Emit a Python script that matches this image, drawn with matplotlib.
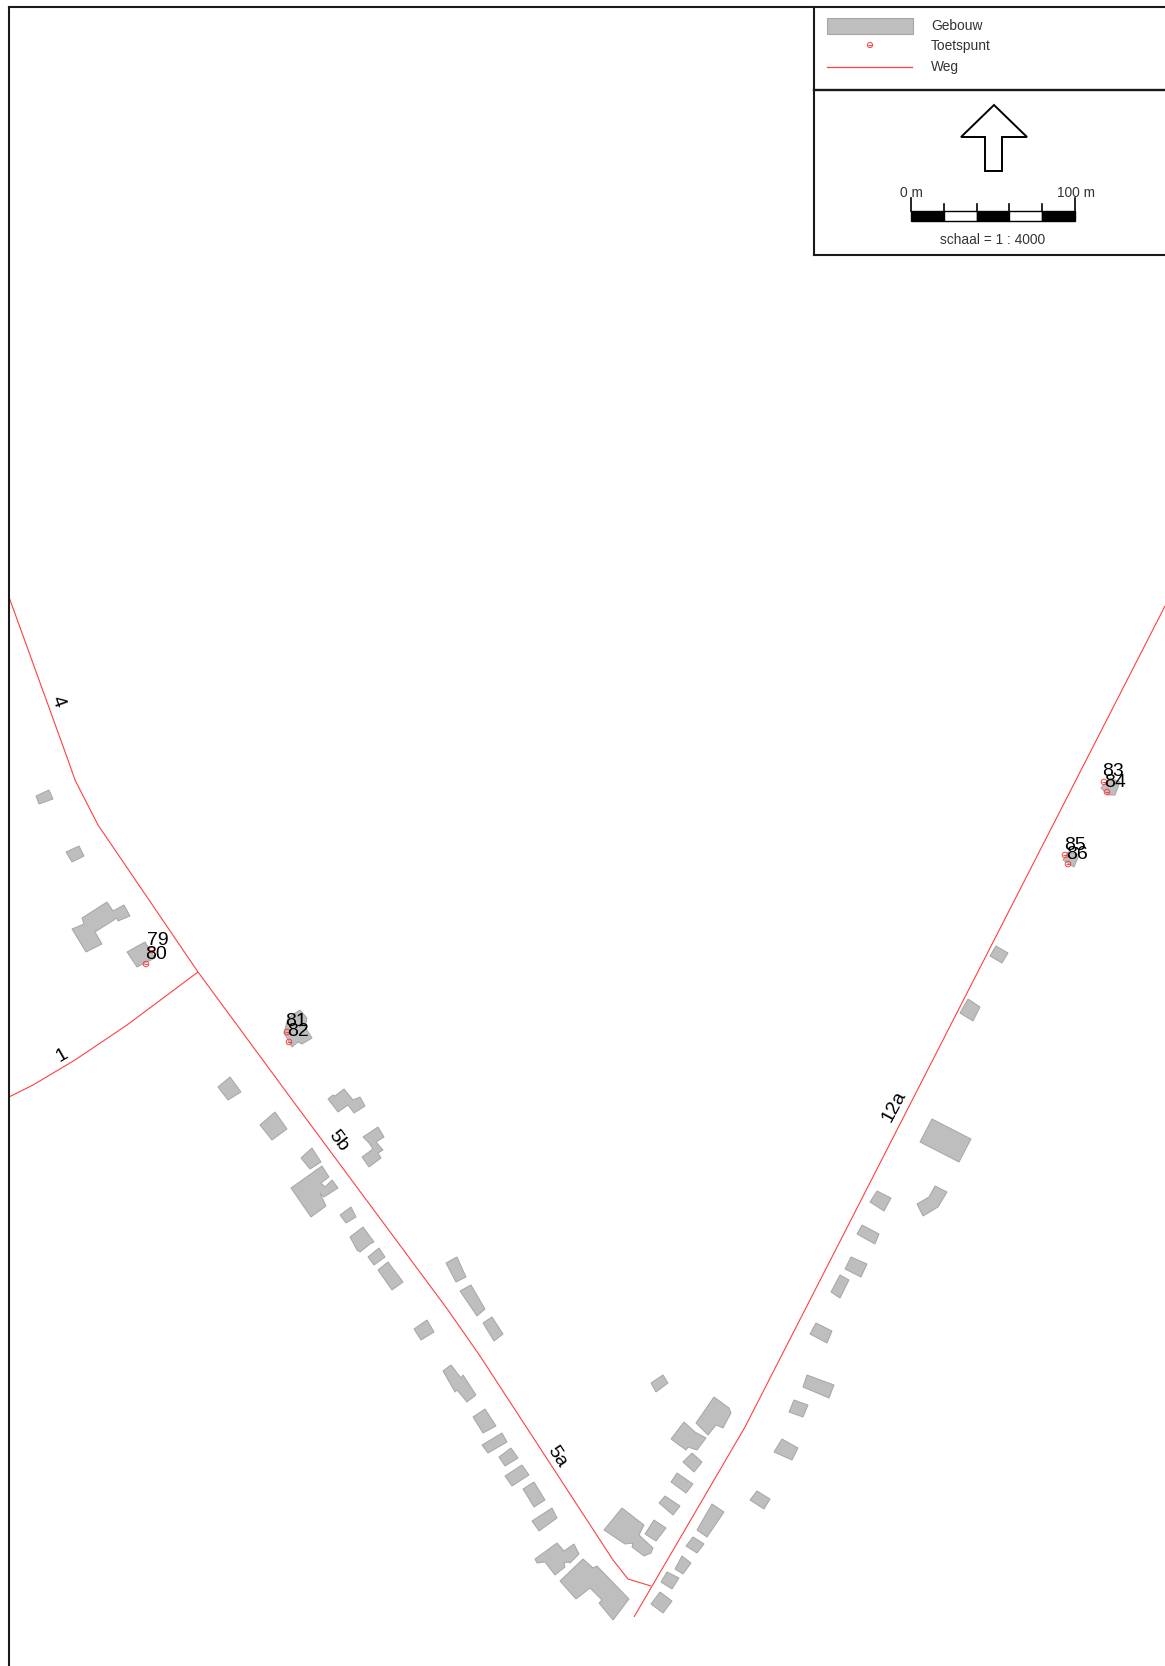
import matplotlib
matplotlib.use("Agg")
import matplotlib.pyplot as plt
from matplotlib.patches import Polygon, Rectangle

plt.rcParams['font.family'] = ['Liberation Sans', 'DejaVu Sans']

# everything is in map pixels, y going down
buildings = [
    [(36,796),(49,790),(53,799),(39,804)],
    [(66,852),(79,846),(84,856),(72,862)],
    [(72,929),(84,924),(82,918),(107,902),(113,911),(124,905),(130,916),(118,921),(117,918),(95,932),(102,944),(86,952)],
    [(127,952),(145,942),(155,958),(137,967)],
    [(300,1010),(307,1018),(305,1027),(312,1038),(302,1044),(298,1042),(292,1047),(284,1033),(288,1018)],
    [(218,1087),(230,1077),(241,1092),(228,1100)],
    [(260,1125),(275,1112),(287,1129),(272,1140)],
    [(328,1099),(333,1095),(335,1096),(344,1089),(353,1100),(360,1097),(365,1106),(354,1113),(348,1105),(338,1112)],
    [(363,1137),(378,1127),(384,1137),(376,1142),(383,1150),(378,1153),(381,1158),(369,1167),(362,1157),(373,1149),(369,1143)],
    [(301,1158),(312,1148),(321,1162),(310,1169)],
    [(291,1188),(322,1166),(329,1177),(321,1183),(325,1187),(332,1180),(338,1188),(324,1197),(320,1193),(326,1206),(311,1217)],
    [(340,1215),(351,1207),(356,1217),(346,1223)],
    [(350,1237),(363,1227),(374,1242),(370,1244),(360,1252),(357,1250)],
    [(368,1257),(379,1248),(385,1257),(374,1265)],
    [(378,1270),(388,1262),(403,1282),(392,1290)],
    [(446,1263),(457,1257),(466,1277),(456,1282)],
    [(460,1291),(471,1285),(485,1309),(477,1316)],
    [(483,1323),(492,1317),(503,1334),(494,1341)],
    [(414,1329),(427,1320),(434,1332),(421,1340)],
    [(443,1371),(451,1365),(461,1378),(463,1375),(476,1395),(467,1402),(457,1390),(455,1392)],
    [(473,1417),(485,1409),(496,1426),(483,1433)],
    [(482,1445),(502,1433),(507,1442),(488,1453)],
    [(499,1457),(511,1448),(518,1458),(505,1466)],
    [(505,1476),(522,1465),(529,1475),(512,1486)],
    [(523,1489),(534,1482),(545,1500),(534,1507)],
    [(532,1521),(552,1508),(557,1518),(539,1531)],
    [(535,1559),(557,1543),(564,1551),(574,1544),(579,1554),(570,1563),(568,1562),(564,1563),(565,1567),(555,1575),(545,1562),(537,1563)],
    [(560,1581),(583,1559),(593,1568),(597,1566),(629,1599),(613,1620),(599,1603),(602,1600),(590,1588),(576,1599)],
    [(651,1383),(663,1375),(668,1383),(656,1392)],
    [(696,1423),(714,1397),(729,1408),(731,1413),(723,1428),(716,1425),(708,1435)],
    [(671,1439),(684,1422),(695,1432),(706,1438),(697,1450),(688,1447),(686,1450)],
    [(683,1462),(692,1453),(702,1462),(694,1472)],
    [(671,1482),(677,1473),(693,1484),(686,1493)],
    [(659,1503),(665,1496),(680,1506),(673,1515)],
    [(645,1534),(654,1520),(666,1528),(656,1541)],
    [(604,1530),(622,1508),(644,1525),(639,1535),(653,1548),(651,1553),(644,1556),(632,1547),(633,1543),(625,1544)],
    [(697,1530),(712,1504),(724,1512),(707,1537)],
    [(686,1546),(693,1537),(704,1544),(697,1553)],
    [(675,1569),(682,1556),(691,1563),(683,1574)],
    [(661,1582),(667,1572),(679,1578),(672,1589)],
    [(651,1604),(660,1592),(672,1601),(663,1613)],
    [(750,1500),(757,1491),(770,1499),(764,1509)],
    [(774,1452),(782,1439),(798,1448),(792,1460)],
    [(789,1412),(794,1400),(808,1405),(803,1417)],
    [(803,1387),(807,1375),(834,1385),(829,1398)],
    [(932,1119),(971,1139),(959,1162),(920,1142)],
    [(917,1204),(929,1197),(935,1186),(947,1192),(938,1207),(923,1216)],
    [(870,1202),(877,1191),(891,1198),(884,1211)],
    [(857,1234),(862,1225),(879,1234),(875,1244)],
    [(845,1269),(851,1257),(867,1264),(861,1277)],
    [(831,1292),(840,1275),(849,1280),(840,1298)],
    [(810,1334),(816,1323),(832,1331),(827,1343)],
    [(990,956),(996,946),(1008,953),(1002,963)],
    [(960,1013),(968,999),(980,1007),(973,1021)],
    [(1101,788),(1110,778),(1120,782),(1115,795),(1108,795)],
    [(1063,860),(1068,852),(1079,855),(1074,867)],
]

roads = [
    [(9,597),(68,760),(75,780),(98,825),(198,972),(290,1097),(448,1310),(480,1356),(613,1560),(628,1579),(651,1586)],
    [(198,972),(127,1025),(75,1060),(33,1085),(9,1097)],
    [(1165,606),(745,1427),(634,1617)],
]

point_x = [152,146,287,289,1104,1107,1065,1068]
point_y = [950,964,1032,1042,782,792,855,864]

point_labels = ['79','80','81','82','83','84','85','86']
point_label_x = [158,156,296,298,1113,1115,1075,1077]
point_label_y = [940,954,1022,1032,771,782,845,854]

road_labels = ['4','1','5b','5a','12a']
road_label_x = [58,62,338,557,894]
road_label_y = [702,1055,1141,1457,1106]
road_label_rot = [-70,30,-53,-57,62]

legend_labels = ['Gebouw','Toetspunt','Weg']
legend_y = [26,46,67]

arrow = [(994,105),(1027,137),(1002,137),(1002,171),(985,171),(985,137),(961,137)]
scale_edges = [912,945,978,1010,1043,1076]

road_red = '#ff4040'
frame = '#1a1a1a'
grey_txt = '#333333'

fig = plt.figure(figsize=(11.65,16.66), dpi=100)
ax = fig.add_axes([0,0,1,1])
ax.set_xlim(0,1165)
ax.set_ylim(1666,0)
ax.axis('off')

for b in buildings:
    ax.add_patch(Polygon(b, closed=True, fc='#bebebe', ec='#a6a6a6', lw=0.7))

for r in roads:
    ax.plot([p[0] for p in r], [p[1] for p in r], color=road_red, lw=0.8, solid_capstyle='butt')

ax.scatter(point_x, point_y, s=16, facecolors='none', edgecolors=road_red, linewidths=0.7, zorder=3)
ax.plot(point_x, point_y, ls='none', marker='_', ms=3, mew=0.7, color=road_red, zorder=3)

for t,x,y in zip(point_labels, point_label_x, point_label_y):
    ax.text(x, y, t, fontsize=14, color='black', ha='center', va='center', zorder=4)

for t,x,y,rot in zip(road_labels, road_label_x, road_label_y, road_label_rot):
    ax.text(x, y, t, fontsize=14, color='black', ha='center', va='center', rotation=rot, rotation_mode='anchor', zorder=4)

# frame and the two boxes on the right
ax.plot([8.5,8.5],[1666,7],color=frame,lw=1.5)
ax.plot([8.5,1165],[7,7],color=frame,lw=1.5)
ax.plot([813.5,813.5],[7,255],color=frame,lw=1.5)
ax.plot([813.5,1165],[90,90],color=frame,lw=1.7)
ax.plot([813.5,1165],[255,255],color=frame,lw=1.5)

# legend
ax.add_patch(Rectangle((827,18),85.5,16,fc='#bebebe',ec='#a6a6a6',lw=0.8))
ax.scatter([870],[45],s=14,facecolors='none',edgecolors=road_red,linewidths=0.7)
ax.plot([870],[45],ls='none',marker='_',ms=3,mew=0.7,color=road_red)
ax.plot([827,912],[67,67],color=road_red,lw=0.9)
for t,y in zip(legend_labels, legend_y):
    ax.text(931, y, t, fontsize=9.9, color=grey_txt, ha='left', va='center')

# north arrow
ax.add_patch(Polygon(arrow, closed=True, fc='white', ec='black', lw=1.4))

# scale bar
for i in range(5):
    c = 'black' if i % 2 == 0 else 'white'
    ax.add_patch(Rectangle((scale_edges[i]-1,211),scale_edges[i+1]-scale_edges[i],9.5,fc=c,ec='black',lw=1.0))
for i,x in enumerate(scale_edges):
    top = 198 if i in (0,5) else 204
    ax.plot([x-1,x-1],[top,211],color='black',lw=1.2)
ax.text(scale_edges[0]-0.5,193,'0 m',fontsize=9.9,color=grey_txt,ha='center',va='center')
ax.text(scale_edges[-1],193,'100 m',fontsize=9.9,color=grey_txt,ha='center',va='center')
ax.text(993,240,'schaal = 1 : 4000',fontsize=9.9,color=grey_txt,ha='center',va='center')

fig.savefig('out.png', dpi=100, facecolor='white')
